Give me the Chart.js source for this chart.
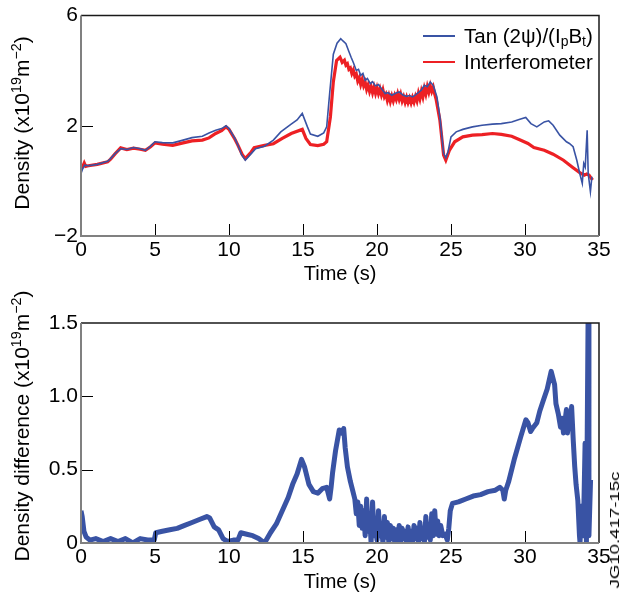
<!DOCTYPE html>
<html>
<head>
<meta charset="utf-8">
<script src="https://cdn.jsdelivr.net/npm/chart.js@4.4.1/dist/chart.umd.min.js"></script>
<style>
  html,body{margin:0;padding:0;background:#fff;}
  #wrap{position:relative;width:624px;height:599px;overflow:hidden;font-family:'Liberation Sans',Arial,Helvetica,sans-serif;color:#000;}
  canvas{position:absolute;left:0;}
  .rot{position:absolute;white-space:nowrap;transform:translate(-50%,-50%) rotate(-90deg);font-size:21px;line-height:1;}
  .rot sup{font-size:0.68em;vertical-align:0.55em;line-height:0;}
  .leg{position:absolute;left:464px;font-size:20.5px;line-height:1;white-space:nowrap;}
  .leg sub{font-size:0.68em;vertical-align:-0.25em;line-height:0;}
  .sw{position:absolute;left:423px;width:32px;}
  #code{position:absolute;left:615px;top:530px;font-size:12px;white-space:nowrap;transform:translate(-50%,-50%) rotate(-90deg) scaleX(1.55);line-height:1;}
</style>
</head>
<body>
<div id="wrap">
  <canvas id="c1" width="624" height="290" style="top:0"></canvas>
  <canvas id="c2" width="624" height="309" style="top:290px"></canvas>
  <div class="rot" style="left:21px;top:123px;">Density (x10<sup>19</sup>m<sup>−2</sup>)</div>
  <div class="rot" style="left:21px;top:426px;">Density difference (x10<sup>19</sup>m<sup>−2</sup>)</div>
  <div class="sw" style="top:35px;height:2px;background:#3953a4;"></div>
  <div class="leg" style="top:26px;">Tan (2ψ)/(I<sub>p</sub>B<sub>t</sub>)</div>
  <div class="sw" style="top:61px;height:2px;background:#ed2024;"></div>
  <div class="leg" style="top:52px;">Interferometer</div>
  <div id="code">JG10.417-15c</div>
</div>
<script>
// ---------- data ----------
const xTicks = [0, 5, 10, 15, 20, 25, 30, 35];
const topYTicks = [-2, 2, 6];
const botYTicks = [0, 0.5, 1.0, 1.5];
const botYLabels = ['0', '0.5', '1.0', '1.5'];

// Tan (2psi)/(IpBt)
const tanT = [0,0.12,0.25,0.5,1.1,1.8,2.0,2.3,2.7,3.1,3.55,4.0,4.35,4.7,5.0,5.5,6.2,6.9,7.5,8.2,8.65,9.1,9.5,9.8,10.0,10.4,10.6,10.85,11.1,11.5,11.8,12.4,13.0,13.5,14.2,14.6,14.95,15.3,15.5,16.0,16.4,16.6,16.8,17.05,17.3,17.55,17.7,17.9,18.1,18.25,18.4,18.6,18.75,18.9,19.05,19.2,19.35,19.55,19.7,19.9,20.1,20.3,20.55,20.75,21.0,21.25,21.5,21.75,22.0,22.2,22.4,22.6,22.85,23.0,23.2,23.4,23.6,23.8,24.05,24.25,24.5,24.65,24.8,25.0,25.35,25.8,26.45,27.1,27.8,28.4,29.1,29.6,30.05,30.4,30.8,31.3,31.6,31.9,32.35,32.8,33.0,33.25,33.5,33.7,33.87,33.97,34.07,34.2,34.27,34.42,34.52];
const tanN = [0.27,0.45,0.57,0.55,0.60,0.71,0.81,0.99,1.17,1.14,1.21,1.17,1.11,1.26,1.42,1.39,1.38,1.48,1.57,1.62,1.74,1.84,1.90,2.00,1.90,1.54,1.30,0.95,0.75,0.99,1.17,1.26,1.48,1.78,2.06,2.21,2.45,1.96,1.70,1.62,1.74,1.96,3.17,4.60,5.00,5.16,5.08,4.98,4.70,4.49,4.30,4.01,4.05,3.83,3.90,3.65,3.72,3.53,3.60,3.45,3.50,3.35,3.17,3.20,3.11,3.18,3.23,3.12,3.07,3.10,3.05,3.12,3.23,3.30,3.47,3.42,3.59,3.47,3.05,2.32,1.00,0.84,1.06,1.60,1.78,1.87,1.96,2.02,2.06,2.08,2.14,2.23,2.30,2.08,1.96,2.14,2.18,2.02,1.66,1.42,1.36,1.24,0.75,0.27,-0.09,0.63,0.50,1.84,0.27,-0.39,0.15];

// Interferometer
const ifT = [0,0.1,0.22,0.32,0.5,1.1,1.8,2.0,2.3,2.68,3.1,3.55,4.0,4.35,4.7,5.0,5.5,6.2,6.9,7.5,8.2,8.65,9.1,9.5,9.8,10.0,10.4,10.6,10.9,11.1,11.5,11.7,12.4,13.0,13.6,14.2,14.95,15.2,15.5,16.0,16.4,16.6,16.85,17.05,17.27,17.5,17.65,
  17.8,17.9,18.0,18.1,18.2,18.3,18.4,18.5,18.6,18.7,18.8,18.9,19.0,19.1,19.2,19.3,19.4,19.5,19.6,19.7,19.8,19.9,20.0,20.1,20.2,20.3,20.4,20.5,20.6,20.7,20.8,20.9,21.0,21.1,21.2,21.3,21.4,21.5,21.6,21.7,21.8,21.9,22.0,22.1,22.2,22.3,22.4,22.5,22.6,22.7,22.8,22.9,23.0,23.1,23.2,23.3,23.4,23.5,23.6,23.7,23.8,23.9,24.0,
  24.25,24.5,24.65,24.9,25.25,25.8,26.45,27.1,27.8,28.4,29.1,29.6,30.2,30.6,31.3,31.9,32.6,33.25,33.7,34.0,34.17,34.32,34.47,34.57];
const ifN = [0.45,0.50,0.65,0.53,0.55,0.60,0.69,0.79,0.98,1.20,1.14,1.19,1.15,1.11,1.24,1.38,1.33,1.29,1.38,1.45,1.48,1.56,1.72,1.82,1.96,1.87,1.51,1.30,0.95,0.81,1.05,1.21,1.29,1.35,1.54,1.72,1.87,1.54,1.32,1.28,1.33,1.42,2.32,3.60,4.37,4.49,4.30,
  4.38,4.20,4.25,4.05,4.10,3.90,4.02,3.80,3.88,3.62,3.74,3.50,3.68,3.45,3.58,3.32,3.48,3.25,3.42,3.20,3.40,3.18,3.38,3.17,3.34,3.12,3.30,3.05,3.15,2.92,3.10,2.88,3.08,2.90,3.10,2.95,3.16,2.96,3.14,2.90,3.05,2.85,3.03,2.84,3.00,2.83,3.02,2.86,3.06,2.90,3.18,2.98,3.25,3.05,3.35,3.15,3.42,3.22,3.45,3.25,3.40,3.15,2.95,
  2.20,0.94,0.75,1.12,1.42,1.60,1.66,1.68,1.72,1.69,1.62,1.50,1.36,1.21,1.11,0.97,0.75,0.48,0.30,0.21,0.25,0.21,0.10,0.03];

// Density difference
const difT = [0,0.08,0.2,0.35,0.6,1.0,1.5,2.0,2.5,3.0,3.5,4.0,4.5,4.95,5.05,5.5,6.0,6.5,7.0,7.5,8.0,8.5,8.7,9.0,9.3,9.6,9.9,10.3,10.6,10.8,11.2,11.6,12.0,12.4,12.8,13.2,13.6,14.0,14.3,14.6,14.9,15.1,15.4,15.7,16.0,16.3,16.6,16.8,16.9,17.0,17.2,17.45,17.6,17.75,17.85,18.0,18.2,18.35,18.5,18.6,18.7,18.8,18.9,19.0,19.1,19.2,19.3,19.4,19.5,19.6,19.7,19.8,19.9,20.0,20.1,20.2,20.3,20.4,20.5,20.6,20.7,20.8,20.9,21.0,21.1,21.2,21.3,21.4,21.5,21.6,21.7,21.8,21.9,22.0,22.1,22.2,22.3,22.4,22.5,22.6,22.7,22.8,22.9,23.0,23.1,23.2,23.3,23.4,23.5,23.6,23.7,23.8,23.9,24.0,24.1,24.2,24.3,24.45,24.6,24.75,24.85,24.95,25.1,25.5,26.0,26.5,27.0,27.5,28.0,28.3,28.5,28.6,28.7,28.9,29.3,29.7,30.06,30.2,30.38,30.5,30.8,31.0,31.23,31.5,31.77,32.0,32.09,32.25,32.4,32.5,32.6,32.8,32.87,32.94,33.05,33.15,33.26,33.36,33.45,33.57,33.68,33.72,33.79,33.88,33.94,34.06,34.15,34.26,34.32,34.43];
const difN = [0.22,0.18,0.08,0.04,0.02,0.03,0.01,0.03,0.01,0.03,0.00,0.03,0.02,0.02,0.07,0.08,0.09,0.10,0.12,0.14,0.16,0.18,0.17,0.11,0.09,0.03,0.01,0.02,0.02,0.07,0.06,0.05,0.03,0.00,0.07,0.13,0.22,0.31,0.40,0.47,0.57,0.52,0.40,0.35,0.34,0.37,0.38,0.30,0.38,0.48,0.63,0.77,0.75,0.78,0.65,0.52,0.42,0.36,0.30,0.20,0.28,0.12,0.25,0.10,0.22,0.05,0.30,0.08,0.20,0.00,0.28,0.05,0.15,0.02,0.22,0.05,0.12,0.00,0.18,0.04,0.14,0.00,0.12,0.03,0.10,0.00,0.09,0.02,0.12,0.00,0.10,0.03,0.08,0.00,0.11,0.02,0.08,0.00,0.12,0.03,0.10,0.00,0.14,0.03,0.10,0.00,0.18,0.04,0.12,0.02,0.20,0.05,0.22,0.06,0.15,0.05,0.12,0.05,0.06,0.02,0.10,0.22,0.27,0.28,0.30,0.32,0.33,0.35,0.36,0.38,0.36,0.30,0.36,0.42,0.58,0.72,0.84,0.82,0.76,0.78,0.82,0.90,0.97,1.05,1.17,1.08,0.95,0.88,0.79,0.85,0.75,0.91,0.75,0.82,0.78,0.93,0.70,0.52,0.40,0.29,0.05,0.00,0.25,0.10,0.05,0.68,0.00,1.50,0.05,0.43];

// ---------- rendering ----------
const FONT = "'Liberation Sans', Arial, Helvetica, sans-serif";
const BLUE = '#3953a4', RED = '#ed2024';
const pts = (t, v) => t.map((x, i) => ({x, y: v[i]}));

const framePlugin = {
  id: 'frame',
  afterDraw(chart, args, o) {
    const {ctx, chartArea: a, scales: {x, y}} = chart;
    ctx.save();
    ctx.strokeStyle = '#000'; ctx.lineWidth = 1;
    ctx.beginPath();
    o.xt.forEach(v => { const p = Math.round(x.getPixelForValue(v)) + 0.5; ctx.moveTo(p, a.bottom); ctx.lineTo(p, a.bottom - 12); });
    o.yt.forEach(v => { const p = Math.round(y.getPixelForValue(v)) + 0.5; ctx.moveTo(a.left, p); ctx.lineTo(a.left + 12, p); });
    ctx.stroke();
    ctx.strokeStyle = '#1a1a1a'; ctx.lineWidth = 1.5;
    ctx.beginPath(); ctx.moveTo(a.left, a.top); ctx.lineTo(a.right, a.top); ctx.lineTo(a.right, a.bottom); ctx.stroke();
    ctx.strokeStyle = '#808080'; ctx.lineWidth = 2;
    ctx.beginPath(); ctx.moveTo(a.left, a.top); ctx.lineTo(a.left, a.bottom); ctx.lineTo(a.right, a.bottom); ctx.stroke();
    ctx.restore();
  }
};

function xScale(axisH, titlePadBottom) {
  return {
    type: 'linear', min: 0, max: 35,
    grid: {display: false, drawTicks: false}, border: {display: false},
    afterBuildTicks: s => { s.ticks = xTicks.map(v => ({value: v})); },
    ticks: {font: {family: FONT, size: 21}, color: '#000', padding: 2, maxRotation: 0, autoSkip: false},
    title: {display: true, text: 'Time (s)', color: '#000', font: {family: FONT, size: 20}, padding: {top: 0, bottom: titlePadBottom}},
    afterFit: s => { s.height = axisH; }
  };
}

new Chart(document.getElementById('c1'), {
  type: 'line',
  data: {datasets: [
    {label: 'Tan (2ψ)/(IpBt)', data: pts(tanT, tanN), borderColor: BLUE, borderWidth: 1.6, pointRadius: 0, tension: 0},
    {label: 'Interferometer', data: pts(ifT, ifN), borderColor: RED, borderWidth: 3.2, pointRadius: 0, tension: 0}
  ]},
  options: {
    responsive: false, animation: false, events: [],
    layout: {padding: {left: 0, right: 25, top: 15, bottom: 0}},
    plugins: {legend: {display: false}, tooltip: {enabled: false}, frame: {xt: [5,10,15,20,25,30], yt: [2]}},
    scales: {
      x: xScale(54, 4),
      y: {
        min: -2, max: 6,
        grid: {display: false, drawTicks: false}, border: {display: false},
        afterBuildTicks: s => { s.ticks = topYTicks.map(v => ({value: v})); },
        ticks: {font: {family: FONT, size: 21}, color: '#000', padding: 3, callback: v => String(v).replace('-', '−')},
        afterFit: s => { s.width = 81; }
      }
    }
  },
  plugins: [framePlugin]
});

new Chart(document.getElementById('c2'), {
  type: 'line',
  data: {datasets: [
    {label: 'Density difference', data: pts(difT, difN), borderColor: BLUE, borderWidth: 5, pointRadius: 0, tension: 0, borderJoinStyle: 'round'}
  ]},
  options: {
    responsive: false, animation: false, events: [],
    layout: {padding: {left: 0, right: 25, top: 33, bottom: 0}},
    plugins: {legend: {display: false}, tooltip: {enabled: false}, frame: {xt: [5,10,15,20,25,30], yt: [0.5, 1.0]}},
    scales: {
      x: xScale(56, 5),
      y: {
        min: 0, max: 1.5,
        grid: {display: false, drawTicks: false}, border: {display: false},
        afterBuildTicks: s => { s.ticks = botYTicks.map(v => ({value: v})); },
        ticks: {font: {family: FONT, size: 21}, color: '#000', padding: 3, callback: (v, i) => botYLabels[i]},
        afterFit: s => { s.width = 81; }
      }
    }
  },
  plugins: [framePlugin]
});
</script>
</body>
</html>
